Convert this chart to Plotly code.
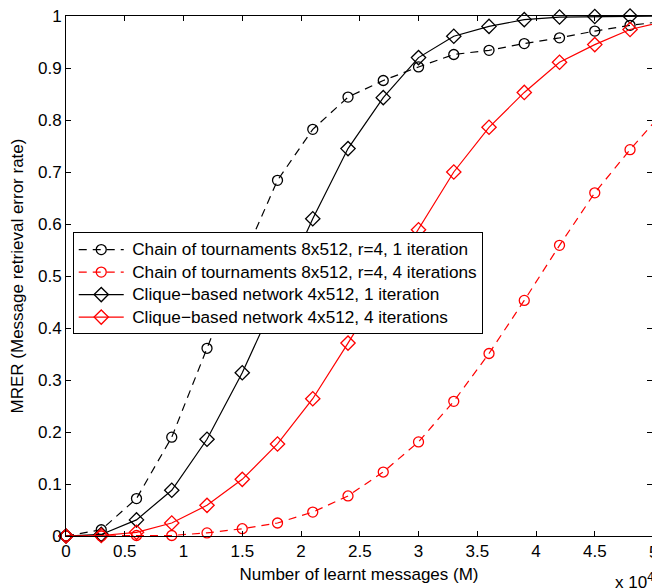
import plotly.graph_objects as go

# Number of learnt messages (in units of 10^4)
x_msgs = [0, 0.3, 0.6, 0.9, 1.2, 1.5, 1.8, 2.1, 2.4, 2.7, 3.0, 3.3, 3.6, 3.9, 4.2, 4.5, 4.8, 5.1]

chain_1it = [0, 0.012, 0.072, 0.190, 0.361, 0.530, 0.684, 0.782, 0.844, 0.876, 0.902, 0.926,
             0.934, 0.947, 0.958, 0.971, 0.982, 0.990]
chain_4it = [0, 0.0, 0.001, 0.001, 0.006, 0.014, 0.025, 0.046, 0.077, 0.123, 0.181, 0.259,
             0.351, 0.453, 0.559, 0.660, 0.743, 0.820]
clique_1it = [0, 0.003, 0.031, 0.088, 0.186, 0.314, 0.462, 0.610, 0.745, 0.843, 0.920, 0.961,
              0.980, 0.993, 0.998, 0.999, 1.0, 1.0]
clique_4it = [0, 0.001, 0.007, 0.025, 0.059, 0.109, 0.177, 0.264, 0.371, 0.480, 0.589, 0.700,
              0.786, 0.853, 0.911, 0.945, 0.974, 0.990]

names = [
    "Chain of tournaments 8x512, r=4, 1 iteration",
    "Chain of tournaments 8x512, r=4, 4 iterations",
    "Clique\u2212based network 4x512, 1 iteration",
    "Clique\u2212based network 4x512, 4 iterations",
]

FONT = "Liberation Sans, Arial, Helvetica, sans-serif"

fig = go.Figure()

series = [
    (chain_1it, names[0], "black", "8px,6px", "circle-open", 10),
    (chain_4it, names[1], "red", "8px,6px", "circle-open", 10),
    (clique_1it, names[2], "black", "solid", "diamond-open", 11),
    (clique_4it, names[3], "red", "solid", "diamond-open", 11),
]
for ys, nm, col, dash, sym, sz in series:
    fig.add_trace(go.Scatter(
        x=x_msgs, y=ys, name='<span style="font-size:17.2px">\u2009' + nm + '</span>',
        mode="lines+markers",
        line=dict(color=col, width=1.2, dash=dash),
        marker=dict(symbol=sym, size=sz, color=col, line=dict(color=col, width=1.3)),
        cliponaxis=False,
    ))

fig.update_layout(
    width=652, height=588,
    margin=dict(l=66, r=0, t=16, b=52),
    paper_bgcolor="white", plot_bgcolor="white",
    font=dict(family=FONT, size=17, color="black"),
    showlegend=True,
    legend=dict(
        x=0.0115, y=0.584, xanchor="left", yanchor="top",
        bgcolor="white", bordercolor="black", borderwidth=1,
        font=dict(family=FONT, size=15, color="black"),
        itemwidth=45, tracegroupgap=0,
    ),
    xaxis=dict(
        range=[0, 4.987], dtick=0.5, tick0=0,
        showgrid=False, zeroline=False,
        showline=True, linecolor="black", linewidth=1, mirror="ticks",
        ticks="inside", ticklen=5, tickcolor="black", tickwidth=1,
        tickfont=dict(family=FONT, size=17, color="black"),
        title=dict(text="Number of learnt messages (M)", standoff=7,
                   font=dict(family=FONT, size=17, color="black")),
    ),
    yaxis=dict(
        range=[0, 1], dtick=0.1, tick0=0,
        showgrid=False, zeroline=False,
        showline=True, linecolor="black", linewidth=1, mirror="ticks",
        ticks="inside", ticklen=5, tickcolor="black", tickwidth=1,
        tickfont=dict(family=FONT, size=17, color="black"),
        title=dict(text="MRER (Message retrieval error rate)", standoff=10,
                   font=dict(family=FONT, size=17, color="black")),
    ),
)

# partially visible "5" tick label at the right edge and the x10^4 exponent
fig.add_annotation(text="5", xref="paper", yref="paper", x=1.0034, y=-0.0317,
                   xanchor="center", yanchor="middle", showarrow=False,
                   font=dict(family=FONT, size=17, color="black"))
fig.add_annotation(text="x 10<sup>4</sup>", xref="paper", yref="paper", x=0.934, y=-0.086,
                   xanchor="left", yanchor="middle", showarrow=False,
                   font=dict(family=FONT, size=17, color="black"))

fig.write_html("out.html")
